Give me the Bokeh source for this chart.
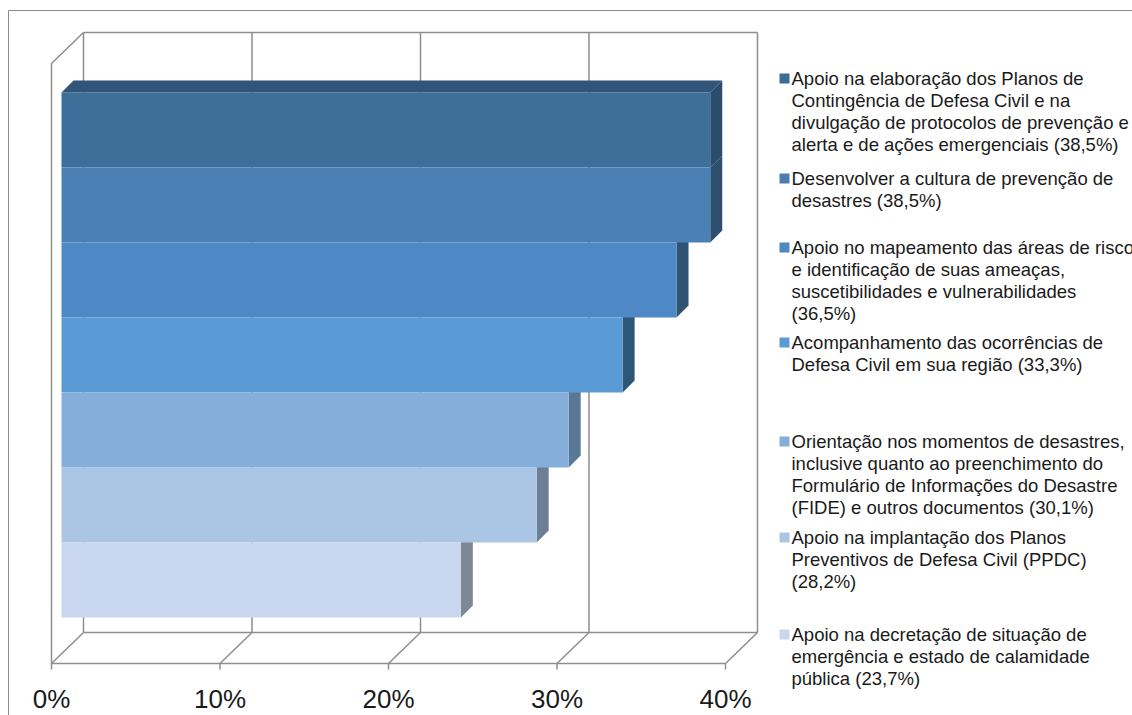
from bokeh.plotting import figure
from bokeh.models import Range1d
from bokeh.core.properties import value
from bokeh.embed import file_html
from bokeh.resources import INLINE

# ---------------- data ----------------
categories = [
    "Apoio na elaboração dos Planos de\nContingência de Defesa Civil e na\ndivulgação de protocolos de prevenção e\nalerta e de ações emergenciais (38,5%)",
    "Desenvolver a cultura de prevenção de\ndesastres (38,5%)",
    "Apoio no mapeamento das áreas de risco\ne identificação de suas ameaças,\nsuscetibilidades e vulnerabilidades\n(36,5%)",
    "Acompanhamento das ocorrências de\nDefesa Civil em sua região (33,3%)",
    "Orientação nos momentos de desastres,\ninclusive quanto ao preenchimento do\nFormulário de Informações do Desastre\n(FIDE) e outros documentos (30,1%)",
    "Apoio na implantação dos Planos\nPreventivos de Defesa Civil (PPDC)\n(28,2%)",
    "Apoio na decretação de situação de\nemergência e estado de calamidade\npública (23,7%)",
]
values = [38.5, 38.5, 36.5, 33.3, 30.1, 28.2, 23.7]
ticks = [0, 10, 20, 30, 40]
tick_labels = ["0%", "10%", "20%", "30%", "40%"]

# ---------------- styles ----------------
front_colors = ["#3E6E9A", "#4A80B4", "#4F89C5", "#5B9BD5", "#86AEDB", "#ABC5E5", "#C8D7EE"]
side_colors = ["#2B4C6C", "#2E4F6E", "#2F5473", "#2F5577", "#587896", "#6C7F96", "#7C8898"]
top_color = "#2F5579"
legend_colors = ["#3D6C98", "#4A7EB2", "#5088C4", "#5B9BD5", "#86AEDB", "#ABC5E5", "#C8D7EE"]
grid_color = "#8E8E8E"
FONT = "Liberation Sans"

# ---------------- layout (pixels) ----------------
W, H = 1132, 715
X0, SX = 61.0, 16.85      # bar front plane: pixel of 0% and px per 1%
Y0, SY = 92.0, 75.0       # top of first bar, px per bar
BAR_D = 12                # bar depth offset (px)
FRONT_OFF, BACK_OFF = -10, 22
FLOOR_FRONT_Y, FLOOR_BACK_Y = 663, 632
WALL_TOP_Y, SIDE_TOP_FRONT_Y = 32, 63
legend_first_line_y = [78, 178, 247, 342, 441, 537, 634]
LEG_MARK_X, LEG_TEXT_X = 784, 791
LEG_FONT_PX = 18.5
LEG_LH = 1.045
LEG_HALF_LINE = 10.8


def X(px):
    return (px - X0) / SX


def Y(py):
    return (py - Y0) / SY


def DX(px):
    return px / SX


def DY(py):
    return py / SY


p = figure(width=W, height=H, output_backend="svg", toolbar_location=None,
           x_range=Range1d(X(0), X(W)), y_range=Range1d(Y(H), Y(0)),
           x_axis_location=None, y_axis_location=None, min_border=0)
p.grid.visible = False
p.outline_line_color = None
p.background_fill_color = "white"
p.border_fill_color = "white"

# outer chart frame
p.line(x=[X(8), X(8), X(W + 20)], y=[Y(H + 20), Y(10), Y(10)], line_color="#8C8C8C", line_width=1)

tmin, tmax = ticks[0], ticks[-1]
bf, bb = DX(FRONT_OFF), DX(BACK_OFF)
# back wall gridlines and edges
p.multi_line(xs=[[t + bb, t + bb] for t in ticks], ys=[[Y(WALL_TOP_Y), Y(FLOOR_BACK_Y)]] * len(ticks),
             line_color=grid_color, line_width=1.5)
p.line(x=[tmin + bb, tmax + bb], y=[Y(WALL_TOP_Y)] * 2, line_color=grid_color, line_width=1.5)
p.line(x=[tmin + bb, tmax + bb], y=[Y(FLOOR_BACK_Y)] * 2, line_color=grid_color, line_width=1.5)
# left side wall
p.line(x=[tmin + bf, tmin + bf, tmin + bb], y=[Y(FLOOR_FRONT_Y), Y(SIDE_TOP_FRONT_Y), Y(WALL_TOP_Y)],
       line_color=grid_color, line_width=1.5)
# floor
p.line(x=[tmin + bf, tmax + bf], y=[Y(FLOOR_FRONT_Y)] * 2, line_color=grid_color, line_width=1.5)
p.multi_line(xs=[[t + bf, t + bb] for t in ticks], ys=[[Y(FLOOR_FRONT_Y), Y(FLOOR_BACK_Y)]] * len(ticks),
             line_color=grid_color, line_width=1.5)
# tick marks
p.multi_line(xs=[[t + bf, t + bf] for t in ticks], ys=[[Y(FLOOR_FRONT_Y), Y(FLOOR_FRONT_Y + 6)]] * len(ticks),
             line_color=grid_color, line_width=1.5)
# tick labels
p.text(x=[t + bf for t in ticks], y=[Y(FLOOR_FRONT_Y + 35)] * len(ticks), text=tick_labels,
       text_font=value(FONT), text_font_size="26px", text_align="center", text_baseline="middle",
       text_color="#1A1A1A")

# bars: side faces (bottom bar first), then front faces, then top face
n = len(values)
order = list(range(n - 1, -1, -1))
dxd, dyd = DX(BAR_D), DY(-BAR_D)
side_xs, side_ys, side_c = [], [], []
for i in order:
    v = values[i]
    side_xs.append([v, v + dxd, v + dxd, v])
    side_ys.append([i, i + dyd, i + 1 + dyd, i + 1])
    side_c.append(side_colors[i])
p.patches(xs=side_xs, ys=side_ys, fill_color=side_c, line_color=None)
p.quad(left=[0] * n, right=values, top=list(range(n)), bottom=[i + 1 for i in range(n)],
       fill_color=front_colors, line_color=None)
p.patch(x=[0, dxd, values[0] + dxd, values[0]], y=[0, dyd, dyd, 0], fill_color=top_color, line_color=None)

# legend
p.scatter(x=[X(LEG_MARK_X)] * n, y=[Y(yy) for yy in legend_first_line_y], marker="square", size=10,
          fill_color=legend_colors, line_color=None)
p.text(x=[X(LEG_TEXT_X)] * n, y=[Y(yy - LEG_HALF_LINE) for yy in legend_first_line_y],
       text=categories, text_font=value(FONT), text_font_size=f"{LEG_FONT_PX}px",
       text_line_height=LEG_LH, text_align="left", text_baseline="top", text_color="#1A1A1A")

open("out.html", "w").write(file_html(p, INLINE))
